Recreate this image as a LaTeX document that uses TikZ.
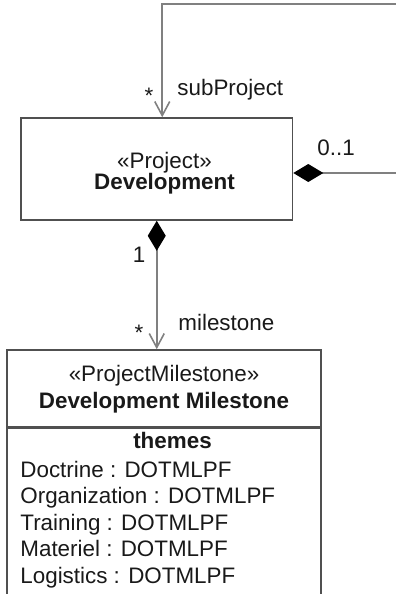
\documentclass[tikz,border=0pt]{standalone}
\usepackage{fontspec}
\setmainfont{Liberation Sans}
\usetikzlibrary{arrows.meta, positioning}
\definecolor{linegray}{RGB}{128,128,128}
\definecolor{boxgray}{RGB}{80,80,80}
\definecolor{textblack}{RGB}{25,25,25}

\begin{document}
\begin{tikzpicture}[
    x=0.5pt, y=-0.5pt,
    every node/.style={font=\fontsize{11.2}{13}\selectfont, text=textblack},
    classbox/.style={draw=boxgray, line width=0.8pt, rectangle, inner sep=0pt},
    assoc/.style={draw=linegray, line width=0.8pt},
    composite/.style={assoc, {Diamond[length=15pt, width=9pt, fill=black, color=black]}-{Straight Barb[length=7pt, width=7.5pt, color=linegray]}},
    classtext/.style={anchor=base, inner sep=0pt},
    role/.style={anchor=base west, inner sep=0pt}
]
\path[use as bounding box, clip] (0,0) rectangle (396,594);

% Development class
\node (dev) [classbox, minimum width=135.75pt, minimum height=51pt] at (156.75,169) {};
\node (devStereo) [classtext] at (164.5,168) {«Project»};
\node (devName) [classtext] at (164.5,189) {\textbf{Development}};

% Development Milestone class
\node (msHead) [classbox, minimum width=157pt, minimum height=38.5pt] at (164,388.5) {};
\node (msBody) [classbox, minimum width=157pt, minimum height=96.5pt, anchor=north] at (msHead.south) {};
\node (msStereo) [classtext] at (164,381) {«ProjectMilestone»};
\node (msName) [classtext] at (164,408) {\textbf{Development Milestone}};
\node (themes) [classtext] at (172.5,448) {\textbf{themes}};
\foreach \theme [count=\i] in {Doctrine,Organization,Training,Materiel,Logistics}
    \node (attr\i) [role] at (20,{450.5+26.5*\i}) {\theme{} : DOTMLPF};

% associations
\coordinate (loopCorner) at (402,4);
\draw [composite] ([yshift=-2pt]dev.east) -| (loopCorner) -| ([xshift=2.75pt]dev.north);
\draw [composite] (dev.south) -- (dev.south |- msHead.north);

% association ends
\node (subMult) [classtext] at (149,103) {*};
\node (subRole) [role] at (177,95) {subProject};
\node (ownerMult) [role] at (317,155) {0..1};
\node (devMult) [classtext] at (139,262) {1};
\node (msMult) [classtext] at (139,340) {*};
\node (msRole) [role] at (178,330) {milestone};

\end{tikzpicture}
\end{document}
